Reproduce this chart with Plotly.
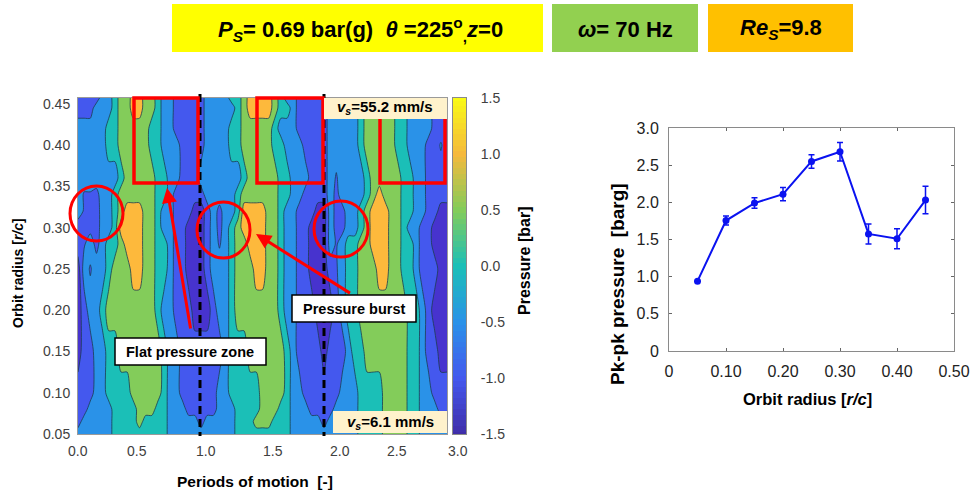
import plotly.graph_objects as go

W, H = 976, 493

# pressure bands, bar
I, B, N, S, L, T, G, O = -1.5, -1.0, -0.9, -0.8, -0.5, 0.0, 0.5, 1.0

def run(*a):
    out = []
    for v, n in zip(a[0::2], a[1::2]):
        out += [v] * n
    return (out + [out[-1]] * 61)[:61]

phase = [i * 0.05 for i in range(61)]
radius = [0.05, 0.065, 0.08, 0.10, 0.15, 0.20, 0.25, 0.28, 0.30, 0.32, 0.34, 0.36, 0.40, 0.42, 0.445, 0.457]

p_050 = run(L,6,T,9,L,11,T,9,L,11,T,4,G,4,T,2,L,5)
p_065 = run(B,1,L,5,T,4,G,1,T,4,L,5,B,1,L,5,T,3,G,3,T,3,L,5,B,1,L,5,T,4,G,4,T,2,L,5)
p_080 = run(B,2,L,4,T,4,G,3,T,2,L,3,B,5,L,3,T,4,G,3,T,2,L,3,B,4,L,4,T,4,G,4,T,2,L,3,B,2)
p_100 = run(B,3,L,2,T,4,G,5,T,1,L,2,B,6,L,2,T,5,G,4,T,1,L,2,B,6,L,3,T,4,G,4,T,2,L,2,B,3)
p_150 = run(I,1,B,2,L,2,T,2,G,7,T,1,L,2,B,7,L,1,T,3,G,6,T,1,L,1,B,4,I,1,B,3,L,1,T,2,G,7,T,2,L,1,B,2,I,2)
p_200 = run(I,1,B,1,L,2,T,1,G,8,T,1,L,2,B,3,I,3,B,1,L,2,T,1,G,7,T,1,L,2,B,3,I,3,B,1,L,1,T,2,G,8,T,2,L,1,B,1,I,3)
p_250 = run(I,1,L,1,S,1,L,2,T,1,G,3,O,2,G,2,T,2,L,1,B,2,I,3,B,1,L,3,T,1,G,3,O,2,G,2,T,1,L,2,B,2,I,3,B,1,S,1,L,1,T,2,G,3,O,2,G,2,T,2,L,1,B,3,I,2)
p_280 = run(B,1,S,1,L,1,N,1,L,1,T,2,G,1,O,3,G,2,T,2,L,1,B,2,I,3,B,1,L,1,S,1,L,1,T,1,G,2,O,3,G,2,T,1,L,2,B,2,I,3,L,1,S,1,L,1,T,2,G,2,O,3,G,2,T,2,L,1,B,2,I,3)
p_300 = run(B,1,S,1,N,1,B,1,L,2,T,1,O,4,G,2,T,1,L,2,B,2,I,3,B,1,L,1,N,1,L,1,T,1,G,1,O,4,G,2,T,1,L,2,B,2,I,3,L,1,N,2,L,2,T,1,G,1,O,3,G,2,T,1,L,2,B,2,I,3)
p_320 = run(L,1,S,1,N,1,B,1,L,2,T,1,G,1,O,3,G,2,T,1,L,2,B,3,I,2,B,1,L,1,N,1,L,2,T,1,O,4,G,2,T,1,L,2,B,3,I,2,L,1,N,2,L,2,T,1,G,1,O,3,G,2,T,2,L,2,B,2,I,2)
p_340 = run(L,1,S,2,N,1,L,2,T,1,G,6,T,2,L,1,B,5,L,5,T,1,G,6,T,2,L,2,B,4,L,1,N,1,L,4,T,1,G,1,O,1,G,3,T,2,L,2,B,4)
p_360 = run(L,7,T,1,G,5,T,2,L,2,B,3,L,7,T,1,G,5,T,2,L,3,B,3,L,1,S,1,L,4,T,1,G,5,T,2,L,2,B,4)
p_400 = run(L,5,T,2,G,5,T,2,L,3,B,4,L,4,T,2,G,5,T,2,L,3,B,4,L,5,T,1,G,5,T,2,L,3,B,2,-0.7,1,B,1)
p_420 = run(L,5,T,2,G,5,T,2,L,2,B,5,L,4,T,2,G,5,T,1,L,3,B,5,L,5,T,1,G,5,T,2,L,4,B,3)
p_445 = run(B,3,L,3,T,1,G,2,O,2,G,2,T,1,L,2,B,5,L,5,T,1,G,1,O,4,G,1,T,2,L,1,B,5,L,5,T,1,G,5,T,2,L,4,B,3)
p_457 = run(B,4,L,2,T,1,G,2,O,2,G,2,T,1,L,2,B,5,L,4,T,2,G,1,O,4,G,1,T,1,L,2,B,5,L,5,T,1,G,5,T,2,L,4,B,3)
pressure = [p_050, p_065, p_080, p_100, p_150, p_200, p_250, p_280, p_300, p_320, p_340, p_360, p_400, p_420, p_445, p_457]

orbit = [0.05, 0.10, 0.15, 0.20, 0.25, 0.30, 0.35, 0.40, 0.45]
pkpk = [0.94, 1.755, 1.99, 2.11, 2.55, 2.68, 1.575, 1.51, 2.03]
pkpk_err = [0.0, 0.06, 0.07, 0.09, 0.09, 0.125, 0.135, 0.135, 0.185]

x_tick_labels = ["0.0", "0.5", "1.0", "1.5", "2.0", "2.5", "3.0"]
x_tick_px = [78, 137, 206, 273, 340, 397, 458]
cbar_ticks = [-1.5, -1.0, -0.5, 0.0, 0.5, 1.0, 1.5]
cbar_labels = ["-1.5", "-1.0", "-0.5", "0.0", "0.5", "1.0", "1.5"]

FONT = "Liberation Sans"
GREY = "#404040"
band_colors = ["#4733CE", "#4458EE", "#2A92E8", "#1BBFB7", "#83CC5A", "#FDB93C"]
contour_scale = [[i / 5, c] for i, c in enumerate(band_colors)]
bar_scale = [[0, "#3F2DA8"], [1/6, "#4458EE"], [2/6, "#2A92E8"], [3/6, "#1BBFB7"],
             [4/6, "#83CC5A"], [5/6, "#F5B93C"], [1, "#F9FB15"]]

def X(p): return p / W
def Y(p): return 1 - p / H

fig = go.Figure()
fig.add_trace(go.Contour(
    x=phase, y=radius, z=pressure, colorscale=contour_scale, showscale=False,
    autocontour=False, contours=dict(start=-1.25, end=0.75, size=0.5, coloring="fill"),
    line=dict(color="#1c3c50", width=0.8, smoothing=0.7), hoverinfo="skip",
    xaxis="x", yaxis="y"))
bar_levels = [-1.5 + i * 0.05 for i in range(61)]
fig.add_trace(go.Heatmap(
    x=[0], y=bar_levels, z=[[v] for v in bar_levels], zmin=-1.5, zmax=1.5, colorscale=bar_scale,
    showscale=False, hoverinfo="skip", xaxis="x3", yaxis="y3"))
fig.add_trace(go.Scatter(
    x=orbit, y=pkpk, mode="lines+markers", xaxis="x2", yaxis="y2", hoverinfo="skip",
    line=dict(color="#0A12F0", width=2), marker=dict(color="#0A12F0", size=7),
    error_y=dict(type="data", array=pkpk_err, color="#0A12F0", thickness=1.5, width=3)))

shapes = []
def rect(x0, y0, x1, y1, fill="rgba(0,0,0,0)", line=None, w=0):
    shapes.append(dict(type="rect", xref="paper", yref="paper", x0=X(x0), x1=X(x1), y0=Y(y0), y1=Y(y1),
                       fillcolor=fill, line=dict(color=line or "rgba(0,0,0,0)", width=w)))

rect(172, 4, 543, 52, "#FFFF00")
rect(552, 4, 698, 52, "#92D050")
rect(708, 4, 853, 52, "#FFC000")

for px in (200, 324):
    shapes.append(dict(type="line", xref="paper", yref="paper", x0=X(px), x1=X(px), y0=Y(94), y1=Y(436),
                       line=dict(color="black", width=3, dash="8px,5px")))
rect(134, 98, 198, 183, line="#FF0000", w=3.5)
rect(257, 98, 323, 183, line="#FF0000", w=3.5)
rect(380, 100, 445, 183, line="#FF0000", w=3.5)
for x0, y0, x1, y1 in [(70, 186, 123, 241), (197, 202, 250, 258), (314, 201, 368, 257)]:
    shapes.append(dict(type="circle", xref="paper", yref="paper", x0=X(x0), x1=X(x1), y0=Y(y0), y1=Y(y1),
                       line=dict(color="#FF0000", width=3)))
rect(324, 98, 447, 119, "#FFF2CC")
rect(333, 411, 447, 433, "#FFF2CC")
rect(115, 338, 266, 365, "white", "black", 1.5)
rect(292, 295, 416, 322, "white", "black", 1.5)

ann = []
def text(x, y, s, size, angle=0, color="black"):
    ann.append(dict(xref="paper", yref="paper", x=X(x), y=Y(y), text=s, showarrow=False, textangle=angle,
                    xanchor="center", yanchor="middle", font=dict(family=FONT, size=size, color=color)))

text(360, 29, "<b><i>P<sub>S</sub></i>= 0.69 bar(g)  <i>θ</i> =225<sup>o</sup><sub>,</sub><i>z</i>=0</b>", 22)
text(625, 29, "<b><i>ω</i>= 70 Hz</b>", 22)
text(781, 29, "<b><i>Re<sub>S</sub></i>=9.8</b>", 22)
text(385, 108, "<b><i>v<sub>s</sub></i>=55.2 mm/s</b>", 15)
text(390, 422, "<b><i>v<sub>s</sub></i>=6.1 mm/s</b>", 15)
text(190, 352, "<b>Flat pressure zone</b>", 14.5)
text(354, 309, "<b>Pressure burst</b>", 14.5)
text(18, 273, "<b>Orbit radius [<i>r/c</i>]</b>", 14, -90)
text(255, 481, "<b>Periods of motion  [-]</b>", 15.5)
text(524, 261, "<b>Pressure [bar]</b>", 16, -90)
text(617, 284, "<b>Pk-pk pressure  [barg]</b>", 19, -90)
text(807, 399, "<b>Orbit radius [<i>r/c</i>]</b>", 16.5)
for lab, px in zip(x_tick_labels, x_tick_px):
    text(px, 451, lab, 14, color=GREY)

def arrow(x, y, x0, y0):
    ann.append(dict(xref="paper", yref="paper", x=X(x), y=Y(y), axref="pixel", ayref="pixel",
                    ax=x0 - x, ay=y0 - y, text=" ", showarrow=True, arrowcolor="#FF0000",
                    arrowwidth=3, arrowhead=2, arrowsize=1))
arrow(167, 188, 192, 337)
arrow(256, 234, 353, 295)

fig.update_layout(
    template="none",
    width=W, height=H, autosize=False, margin=dict(l=0, r=0, t=0, b=0, pad=0), paper_bgcolor="white",
    plot_bgcolor="white", showlegend=False, shapes=shapes, annotations=ann,
    font=dict(family=FONT),
    xaxis=dict(domain=[X(78), X(447)], range=[0, 3], anchor="y", showticklabels=False, showgrid=False,
               automargin=False, zeroline=False, ticks="", showline=True, linecolor="#9a9a9a", linewidth=1, mirror=True),
    yaxis=dict(domain=[Y(434), Y(98)], range=[0.05, 0.457], anchor="x", showgrid=False, zeroline=False,
               automargin=False, tickvals=[0.05, 0.10, 0.15, 0.20, 0.25, 0.30, 0.35, 0.40, 0.45], tickformat=".2f",
               ticks="", ticklabelstandoff=4, tickfont=dict(family=FONT, size=14, color=GREY),
               showline=True, linecolor="#9a9a9a", linewidth=1, mirror=True),
    xaxis3=dict(domain=[X(453), X(466)], anchor="y3", showticklabels=False, ticks="", showgrid=False,
                automargin=False, zeroline=False, showline=True, linecolor="#8a8a8a", linewidth=1, mirror=True),
    yaxis3=dict(domain=[Y(434), Y(98)], range=[-1.5, 1.5], anchor="x3", side="right", showgrid=False,
                automargin=False, zeroline=False, tickvals=cbar_ticks, ticktext=cbar_labels, ticks="",
                ticklabelstandoff=11, tickfont=dict(family=FONT, size=14, color=GREY),
                showline=True, linecolor="#8a8a8a", linewidth=1, mirror=True),
    xaxis2=dict(domain=[X(669), X(954)], range=[0, 0.5], anchor="y2", showgrid=False, zeroline=False,
                automargin=False, tickvals=[0, 0.1, 0.2, 0.3, 0.4, 0.5], ticktext=["0", "0.10", "0.20", "0.30", "0.40", "0.50"],
                ticks="inside", ticklen=3, tickcolor="#666", showline=True, linecolor="#8a8a8a", linewidth=1,
                mirror="ticks", ticklabelstandoff=6, tickfont=dict(family=FONT, size=16, color="#222")),
    yaxis2=dict(domain=[Y(351), Y(128)], range=[0, 3], anchor="x2", showgrid=False, zeroline=False,
                automargin=False, tickvals=[0, 0.5, 1, 1.5, 2, 2.5, 3], ticktext=["0", "0.5", "1.0", "1.5", "2.0", "2.5", "3.0"],
                ticks="inside", ticklen=3, tickcolor="#666", showline=True, linecolor="#8a8a8a", linewidth=1,
                mirror="ticks", ticklabelstandoff=6, tickfont=dict(family=FONT, size=16, color="#222")),
)
fig.write_html("out.html", config=dict(displayModeBar=False), post_script="document.body.style.margin='0';")
